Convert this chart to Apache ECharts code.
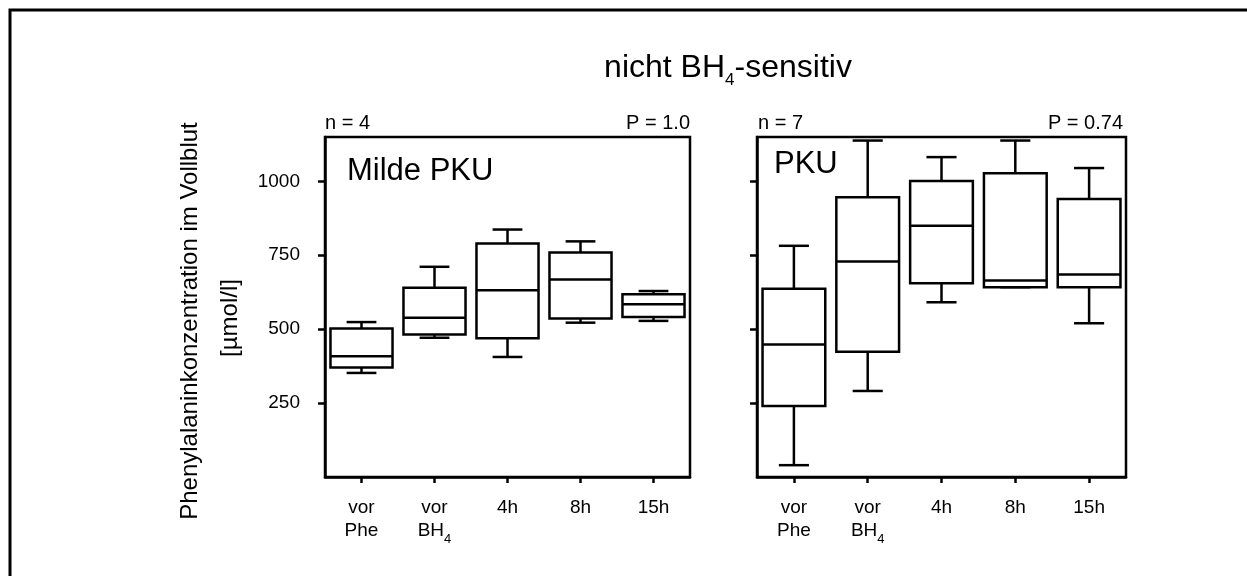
<!DOCTYPE html>
<html>
<head>
<meta charset="utf-8">
<script src="https://cdn.jsdelivr.net/npm/echarts@6/dist/echarts.min.js"></script>
<style>
  html, body { margin: 0; padding: 0; background: #fff; }
  #main { width: 1247px; height: 576px; }
</style>
</head>
<body>
<div id="main"></div>
<script>
// Kategorien der x-Achse
var categories = ['vor\nPhe', 'vor\nBH{sub|4}', '4h', '8h', '15h'];
// y-Achse Beschriftung
var yTicks = [250, 500, 750, 1000];

// Boxplot-Werte: [min, Q1, Median, Q3, max]
var mildePku = [
    [352, 370, 408, 502, 524],
    [471, 482, 539, 640, 711],
    [406, 469, 632, 790, 837],
    [522, 536, 668, 759, 797],
    [528, 541, 584, 618, 629]
];
var pku = [
    [40, 240, 448, 637, 782],
    [291, 424, 729, 946, 1138],
    [591, 655, 850, 1001, 1082],
    [642, 642, 665, 1027, 1138],
    [520, 642, 685, 940, 1045]
];

var FONT = 'Liberation Sans, Arial, sans-serif';

var chart = echarts.init(document.getElementById('main'));

// Datenpunkte fuer die custom-Serie: [Index, min, Q1, Median, Q3, max]
function toRows(arr) {
    return arr.map(function (d, i) { return [i].concat(d); });
}

// eine Box zeichnen
function renderBox(params, api) {
    var i = api.value(0);
    var lo = api.coord([i, api.value(1)]);
    var q1 = api.coord([i, api.value(2)]);
    var med = api.coord([i, api.value(3)]);
    var q3 = api.coord([i, api.value(4)]);
    var hi = api.coord([i, api.value(5)]);
    var cx = med[0];
    var bw = api.size([1, 0])[0] * 0.85;
    var cap = bw * 0.24;
    var st = { stroke: '#000', lineWidth: 2.5, fill: null };
    return {
        type: 'group',
        children: [
            { type: 'line', shape: { x1: cx, y1: hi[1], x2: cx, y2: q3[1] }, style: st },
            { type: 'line', shape: { x1: cx, y1: lo[1], x2: cx, y2: q1[1] }, style: st },
            { type: 'line', shape: { x1: cx - cap, y1: hi[1], x2: cx + cap, y2: hi[1] }, style: st },
            { type: 'line', shape: { x1: cx - cap, y1: lo[1], x2: cx + cap, y2: lo[1] }, style: st },
            { type: 'rect', shape: { x: cx - bw / 2, y: q3[1], width: bw, height: q1[1] - q3[1] },
              style: { stroke: '#000', lineWidth: 2.5, fill: '#fff' } },
            { type: 'line', shape: { x1: cx - bw / 2, y1: med[1], x2: cx + bw / 2, y2: med[1] }, style: st }
        ]
    };
}

// tiefgestellte 4
var subRich = {
    sub: { fontSize: 13, fontFamily: FONT, color: '#000', verticalAlign: 'top', lineHeight: 23, padding: [14, 0, 0, 0] }
};

function xAxis(idx) {
    return {
        type: 'category',
        gridIndex: idx,
        data: categories,
        boundaryGap: true,
        axisLine: { show: true, lineStyle: { color: '#000', width: 2.5 } },
        axisTick: { show: true, alignWithLabel: true, length: 6, lineStyle: { color: '#000', width: 2.5 } },
        axisLabel: { interval: 0, margin: 19, fontSize: 19, lineHeight: 23, color: '#000', fontFamily: FONT, rich: subRich },
        splitLine: { show: false }
    };
}

function yAxis(idx, showLabel) {
    return {
        type: 'value',
        gridIndex: idx,
        min: 0,
        max: 1150,
        interval: 250,
        axisLine: { show: true, lineStyle: { color: '#000', width: 2.5 } },
        axisTick: { show: true, length: 7, customValues: yTicks, lineStyle: { color: '#000', width: 2.5 } },
        axisLabel: { show: showLabel, customValues: yTicks, margin: 25, fontSize: 19, color: '#000', fontFamily: FONT,
                     formatter: function (v) { return String(v); } },
        splitLine: { show: false }
    };
}

function txt(x, y, text, size, align, extra) {
    var o = {
        type: 'text', x: x, y: y,
        style: { text: text, fontSize: size, fontFamily: FONT, fill: '#000', align: align, verticalAlign: 'middle' }
    };
    if (extra) { for (var k in extra) o[k] = extra[k]; }
    return o;
}

var option = {
    backgroundColor: '#fff',
    animation: false,
    grid: [
        { left: 325, top: 137, width: 365, height: 340, show: true, borderColor: '#000', borderWidth: 2.5 },
        { left: 757, top: 137, width: 369, height: 340, show: true, borderColor: '#000', borderWidth: 2.5 }
    ],
    xAxis: [xAxis(0), xAxis(1)],
    yAxis: [yAxis(0, true), yAxis(1, false)],
    series: [
        { type: 'custom', name: 'Milde PKU', xAxisIndex: 0, yAxisIndex: 0,
          renderItem: renderBox, encode: { x: 0, y: [1, 2, 3, 4, 5] }, data: toRows(mildePku) },
        { type: 'custom', name: 'PKU', xAxisIndex: 1, yAxisIndex: 1,
          renderItem: renderBox, encode: { x: 0, y: [1, 2, 3, 4, 5] }, data: toRows(pku) }
    ],
    graphic: [
        // Rahmen oben und links
        { type: 'polyline', shape: { points: [[10, 576], [10, 10], [1247, 10]] },
          style: { stroke: '#000', lineWidth: 3, fill: null } },
        // Titel
        { type: 'text', x: 728, y: 68,
          style: { text: 'nicht BH{sub|4}-sensitiv', fontSize: 32, fontFamily: FONT, fill: '#000',
                   align: 'center', verticalAlign: 'middle', lineHeight: 34,
                   rich: { sub: { fontSize: 17, fontFamily: FONT, fill: '#000', verticalAlign: 'top',
                                  lineHeight: 34, padding: [21, 0, 0, 0] } } } },
        // y-Achsentitel
        txt(190, 321, 'Phenylalaninkonzentration im Vollblut', 24, 'center', { rotation: Math.PI / 2 }),
        txt(230, 318, '[µmol/l]', 24, 'center', { rotation: Math.PI / 2 }),
        // Panel-Beschriftungen
        txt(325, 123, 'n = 4', 20, 'left'),
        txt(690, 123, 'P = 1.0', 20, 'right'),
        txt(758, 123, 'n = 7', 20, 'left'),
        txt(1123, 123, 'P = 0.74', 20, 'right'),
        txt(347, 171, 'Milde PKU', 31, 'left'),
        txt(774, 164, 'PKU', 31, 'left')
    ]
};

chart.setOption(option);
</script>
</body>
</html>
